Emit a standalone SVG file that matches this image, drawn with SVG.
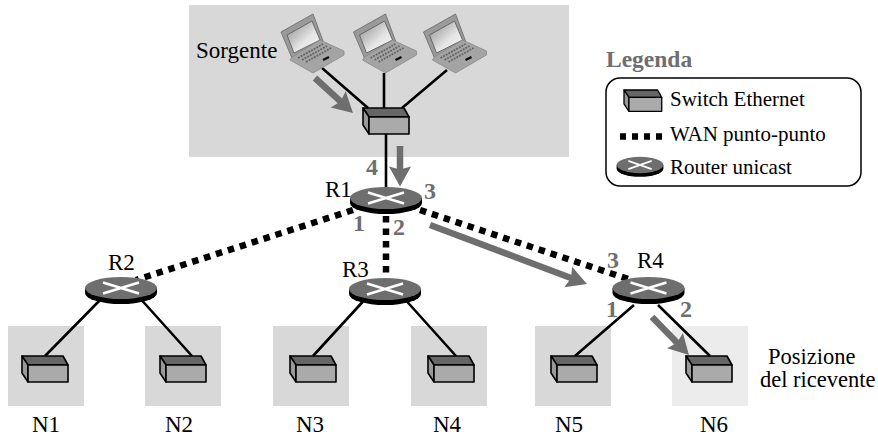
<svg xmlns="http://www.w3.org/2000/svg" xmlns:xlink="http://www.w3.org/1999/xlink" width="878" height="440" viewBox="0 0 878 440">
<style>
text{font-family:"Liberation Serif","Times New Roman",serif;font-size:23px;fill:#000}
.g{fill:#6e6e6e;font-weight:bold}
.num{font-size:24px}
.leg{font-size:21px}
.pos{font-size:22.500px}
.lan{fill:#d8d8d8}
.wire{stroke:#000;stroke-width:2.6;fill:none}
.wan{stroke:#000;stroke-width:6.5;stroke-dasharray:6.500 6;fill:none}
.flow{stroke:#6e6e6e;stroke-width:6.5;fill:none;marker-end:url(#ah)}
.sw{stroke:#000;stroke-width:1.6;stroke-linejoin:round}
</style>
<defs>
<marker id="ah" markerUnits="userSpaceOnUse" markerWidth="32" markerHeight="32" refX="10" refY="14" orient="auto" overflow="visible">
<path d="M0,3 L20,14 L0,25 L3,14 Z" fill="#6e6e6e"/>
</marker>
<linearGradient id="scr" x1="0" y1="0" x2="1" y2="1"><stop offset="0" stop-color="#8a8a8a"/><stop offset="0.6" stop-color="#e6e6e6"/><stop offset="1" stop-color="#f4f4f4"/></linearGradient>
<g id="switch">
<path class="sw" d="M0,0 H41 L46,9 H6 Z" fill="#666"/>
<path class="sw" d="M0,0 L6,9 V26 L0,17 Z" fill="#999"/>
<rect class="sw" x="6" y="9" width="40" height="17" fill="#aaa"/>
</g>
<g id="router">
<path d="M-36,0 V5 A36,11 0 0 0 36,5 V0 Z" fill="#000"/>
<ellipse cx="0" cy="0" rx="36" ry="11" fill="#6e6e6e"/>
<path d="M-18,-5.500 L18,5.500 M-18,5.500 L18,-5.500" stroke="#fff" stroke-width="2.500" fill="none"/>
</g>
<g id="laptop">
<path d="M1,32 L33,14 L43,41 L12,58 Z" fill="#9a9a9a" stroke="#777" stroke-width="1"/>
<path d="M7,35 L32,21 L40,40 L14,53 Z" fill="url(#scr)" stroke="#555" stroke-width="0.800"/>
<path d="M10,60 L33,73 L64,55 V51 L40,40 L12,57 Z" fill="#a4a4a4" stroke="#888" stroke-width="0.800"/>
<path d="M18,58 L43,44 M22,60 L47,46 M26,62 L51,48" stroke="#666" stroke-width="1.800" stroke-dasharray="2 1" fill="none"/>
<path d="M43,60 L49,57" stroke="#111" stroke-width="2.500"/>
</g>
</defs>

<g id="lans">
<rect class="lan" x="189" y="5" width="380" height="152"/>
<rect class="lan" x="8" y="326" width="76" height="80"/>
<rect class="lan" x="145" y="326" width="76" height="80"/>
<rect class="lan" x="273" y="326" width="76" height="80"/>
<rect class="lan" x="411" y="326" width="76" height="80"/>
<rect class="lan" x="535" y="326" width="76" height="80"/>
<rect x="672" y="326" width="76" height="80" fill="#ececec"/>
</g>

<g id="connectors">
<path class="wire" d="M322,68 L368,108 M384,73 V108 M447,70 L402,108 M386,134 V188"/>
<path class="wire" d="M104,296 L45,356 M138,296 L192,356 M368,296 L313,356 M402,296 L456,356 M634,305 L575,356 M658,305 L710,356"/>
<path class="wan" d="M353,210 L136,280 M386,216 V276 M420,210 L628,279"/>
<path class="flow" d="M315,78 L345.600,106.200"/>
<path class="flow" d="M400,146 V176.500"/>
<path class="flow" d="M430,225 L577.600,280.500"/>
<path class="flow" d="M652,317 L682,347.800"/>
</g>

<g id="sources">
<use href="#laptop" x="280" y="0"/>
<use href="#laptop" x="352.500" y="0"/>
<use href="#laptop" x="422.500" y="0"/>
</g>
<g id="sw0"><use href="#switch" x="363" y="108"/></g>
<g id="R1"><use href="#router" x="386" y="198"/></g>
<g id="R2"><use href="#router" x="121" y="288"/></g>
<g id="R3"><use href="#router" x="385" y="289"/></g>
<g id="R4"><use href="#router" x="648.500" y="288"/></g>
<g id="N1"><use href="#switch" x="22" y="356"/></g>
<g id="N2"><use href="#switch" x="160" y="356"/></g>
<g id="N3"><use href="#switch" x="290" y="356"/></g>
<g id="N4"><use href="#switch" x="428" y="356"/></g>
<g id="N5"><use href="#switch" x="551" y="356"/></g>
<g id="N6"><use href="#switch" x="686" y="356"/></g>

<g id="labels">
<text x="196" y="58">Sorgente</text>
<text x="325" y="197">R1</text>
<text x="108" y="270">R2</text>
<text x="342" y="277">R3</text>
<text x="637" y="268">R4</text>
<text x="32" y="432">N1</text>
<text x="165" y="432">N2</text>
<text x="296" y="432">N3</text>
<text x="433" y="432">N4</text>
<text x="555" y="432">N5</text>
<text x="700" y="432">N6</text>
<text class="pos" x="768" y="364">Posizione</text>
<text class="pos" x="760" y="387">del ricevente</text>
<text class="g num" x="366" y="175">4</text>
<text class="g num" x="424" y="199">3</text>
<text class="g num" x="353" y="231">1</text>
<text class="g num" x="393" y="235">2</text>
<text class="g num" x="607" y="268">3</text>
<text class="g num" x="606" y="317">1</text>
<text class="g num" x="680" y="317">2</text>
</g>

<g id="legend">
<text class="g" x="606" y="67" style="font-size:23.500px">Legenda</text>
<rect x="606" y="78" width="255" height="108" rx="14" fill="#fff" stroke="#000" stroke-width="1.500"/>
<use href="#switch" transform="translate(624,90) scale(.82,.82)"/>
<text class="leg" x="670" y="106">Switch Ethernet</text>
<path class="wan" d="M620,136.500 H662" style="stroke-dasharray:6 6"/>
<text class="leg" x="670" y="141">WAN punto-punto</text>
<use href="#router" transform="translate(640,165) scale(.65,.74)"/>
<text class="leg" x="670" y="174">Router unicast</text>
</g>
</svg>
